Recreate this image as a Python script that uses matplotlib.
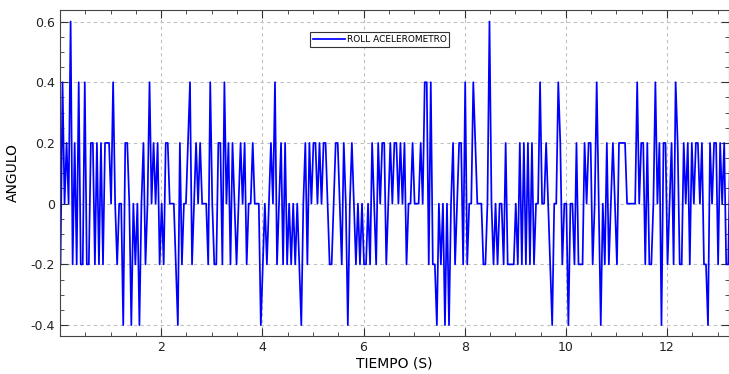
import numpy as np
import matplotlib.pyplot as plt
from matplotlib.ticker import MultipleLocator

# muestreo del acelerometro (roll), 25 Hz
t0 = 0.01
dt = 0.04

roll_0 = [-0.2, 0.4, 0, 0.2, 0, 0.6, -0.2, 0.2, -0.2, 0.4,
          -0.2, -0.2, 0.4, -0.2, -0.2, 0.2, 0.2, -0.2, 0.2, -0.2,
          0.2, -0.2, 0.2, 0.2, 0.2, 0, 0.4, 0, -0.2, 0,
          0, -0.4, 0.2, 0.2, 0, -0.4, 0, -0.2, 0, -0.4,
          0, 0.2, -0.2, 0, 0.4, 0, 0.2, 0, 0.2, -0.2]
roll_1 = [0, -0.2, 0.2, 0.2, 0, 0, 0, -0.2, -0.4, 0.2,
          -0.2, 0, 0, 0.2, 0.4, -0.2, 0, 0.2, 0, 0.2,
          0, 0, 0, -0.2, 0.4, 0, -0.2, -0.2, 0.2, 0.2,
          -0.2, 0.4, 0, 0.2, -0.2, 0.2, 0, -0.2, 0, 0.2,
          0, 0.2, -0.2, 0, 0, 0.2, 0, 0, 0, -0.4]
roll_2 = [-0.2, 0, -0.2, 0, 0.2, 0, 0.4, -0.2, 0, 0.2,
          -0.2, 0.2, -0.2, 0, -0.2, 0, -0.2, 0, -0.2, -0.4,
          0, 0.2, -0.2, 0.2, 0, 0.2, 0.2, 0, 0.2, 0,
          0.2, 0.2, 0, -0.2, -0.2, 0, 0.2, 0.2, 0, -0.2,
          0.2, 0, -0.4, 0, 0.2, 0, -0.2, 0, -0.2, 0]
roll_3 = [-0.2, -0.2, 0, -0.2, 0.2, 0, -0.2, 0.2, 0, 0.2,
          0.2, -0.2, 0, 0.2, 0, 0.2, 0.2, 0, 0.2, 0,
          0.2, -0.2, 0, 0, 0.2, 0, 0, 0, 0.2, 0,
          0.4, 0.4, -0.2, 0.4, -0.2, -0.2, -0.4, 0, -0.2, 0,
          -0.4, 0, -0.4, 0, 0.2, -0.2, 0, 0.2, 0.2, -0.2]
roll_4 = [0.4, -0.2, 0, 0, 0.4, 0.2, 0, 0, 0, -0.2,
          -0.2, 0, 0.6, 0, -0.2, 0, -0.2, 0, 0, -0.2,
          0.2, -0.2, -0.2, -0.2, -0.2, 0, -0.2, 0.2, -0.2, 0.2,
          -0.2, 0.2, -0.2, 0.2, -0.2, 0, 0, 0.4, 0, 0,
          0.2, 0, -0.2, -0.4, 0, 0, 0.4, 0.2, -0.2, 0]
roll_5 = [0, -0.4, 0, 0, -0.2, 0.2, -0.2, -0.2, -0.2, 0.2,
          0, 0.2, 0.2, -0.2, 0, 0.4, 0, -0.4, 0, -0.2,
          0.2, -0.2, 0, 0.2, 0, -0.2, 0.2, 0.2, 0.2, 0.2,
          0, 0, 0, 0, 0, 0.4, 0, 0.2, 0.2, -0.2,
          0.2, -0.2, -0.2, 0, 0.4, 0, 0.2, -0.4, 0.2, 0.2]
roll_6 = [-0.2, 0, 0.2, -0.2, 0.4, 0.2, -0.2, -0.2, 0.2, 0,
          0.2, -0.2, 0.2, 0, 0.2, 0.2, 0, 0.2, -0.2, -0.2,
          -0.4, 0.2, 0, 0.2, 0.2, -0.2, 0.2, 0, 0.2, -0.2,
          -0.2, 0.2, 0.2]
roll = roll_0 + roll_1 + roll_2 + roll_3 + roll_4 + roll_5 + roll_6
tiempo = t0 + dt * np.arange(len(roll))

plt.figure(1, figsize=(7.29, 3.74), dpi=100)
plt.clf()
ax = plt.axes([0.0823, 0.1016, 0.9177, 0.8717])

ax.plot(tiempo, roll, '-', color='#0000ff', linewidth=1.25, label='ROLL ACELEROMETRO')

ax.set_xlim(0.0, 13.225)
ax.set_ylim(-0.436, 0.638)
ax.xaxis.set_major_locator(MultipleLocator(2))
ax.xaxis.set_minor_locator(MultipleLocator(0.5))
ax.yaxis.set_major_locator(MultipleLocator(0.2))
ax.yaxis.set_minor_locator(MultipleLocator(0.05))
ax.set_xticks([2, 4, 6, 8, 10, 12])
ax.set_yticks([-0.4, -0.2, 0, 0.2, 0.4, 0.6])
ax.set_yticklabels(['-0.4', '-0.2', '0', '0.2', '0.4', '0.6'])
ax.tick_params(which='both', direction='in', top=True, right=True, colors='#333333',
               labelcolor='#222222', labelsize=9)
ax.tick_params(which='major', length=6)
ax.tick_params(which='minor', length=3)
ax.grid(True, which='major', linestyle=(0, (3, 3)), color='#c0c0c0', linewidth=0.8)
for s in ax.spines.values():
    s.set_color('#444444')

ax.set_xlabel('TIEMPO (S)', fontsize=10, labelpad=2)
ax.set_ylabel('ANGULO', fontsize=10, labelpad=8)

leg = ax.legend(loc='upper center', bbox_to_anchor=(0.478, 0.945), fontsize=6.5,
                fancybox=False, framealpha=1, edgecolor='#333333',
                handlelength=3.5, borderpad=0.3, handletextpad=0.2)
leg.get_frame().set_linewidth(0.8)

plt.savefig('out.png', dpi=100)
